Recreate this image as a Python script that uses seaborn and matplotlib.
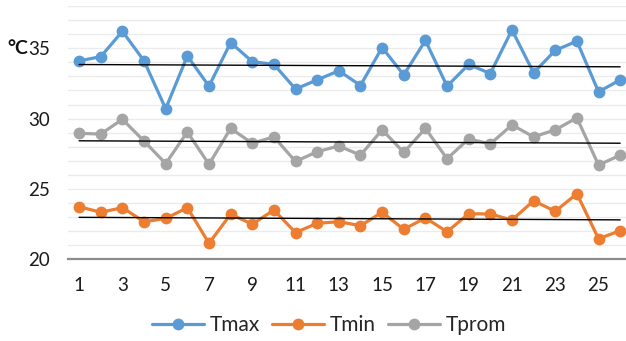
import numpy as np
import pandas as pd
import matplotlib
matplotlib.use("Agg")
import matplotlib.pyplot as plt
from matplotlib.lines import Line2D
import seaborn as sns

days = list(range(1, 27))
tmax = [34.1, 34.4, 36.2, 34.1, 30.7, 34.45, 32.3, 35.4, 34.05, 33.85, 32.1, 32.75, 33.4,
        32.35, 35.05, 33.1, 35.55, 32.3, 33.85, 33.2, 36.3, 33.25, 34.85, 35.5, 31.9, 32.75]
tmin = [23.74, 23.34, 23.67, 22.67, 22.9, 23.67, 21.14, 23.2, 22.5, 23.5, 21.9, 22.56, 22.67,
        22.39, 23.34, 22.13, 22.94, 21.96, 23.24, 23.22, 22.79, 24.16, 23.41, 24.66, 21.46, 22.03]
tprom = [28.95, 28.9, 29.95, 28.4, 26.8, 29.05, 26.75, 29.3, 28.25, 28.7, 26.95, 27.65, 28.05,
         27.4, 29.2, 27.6, 29.3, 27.15, 28.55, 28.2, 29.55, 28.7, 29.2, 30.05, 26.7, 27.4]
series_names = ["Tmax", "Tmin", "Tprom"]
x_ticks = list(range(1, 26, 2))
y_ticks = [20, 25, 30, 35]

colors = {"Tmax": "#5B9BD5", "Tmin": "#ED7D31", "Tprom": "#A5A5A5"}

df = pd.DataFrame({
    "Día": days * 3,
    "Temp": tmax + tmin + tprom,
    "Serie": ["Tmax"] * 26 + ["Tmin"] * 26 + ["Tprom"] * 26,
})

sns.set_style("white")
plt.rcParams["font.family"] = ["Lato", "DejaVu Sans"]

fig = plt.figure(figsize=(6.26, 3.41), dpi=100)
ax = fig.add_axes([68.3 / 626, 81.7 / 341, (631 - 68.3) / 626, (335 - 81.7) / 341])

# light horizontal grid at every degree
for v in range(21, 39):
    ax.axhline(v, color="#EBEBEB", lw=1.0, zorder=0)

sns.lineplot(data=df, x="Día", y="Temp", hue="Serie", palette=colors,
             marker="o", markersize=8.5, markeredgewidth=0, linewidth=2.3,
             legend=False, ax=ax, zorder=3)

# linear trend lines
for name, vals in zip(series_names, [tmax, tmin, tprom]):
    slope, icpt = np.polyfit(days, vals, 1)
    xs = np.array([days[0], days[-1]])
    ax.plot(xs, slope * xs + icpt, color="black", lw=1.0, zorder=4)

ax.set_xlim(0.5, 26.5)
ax.set_ylim(20, 38)
ax.set_xticks(x_ticks)
ax.set_yticks(y_ticks)
ax.set_xlabel("")
ax.set_ylabel("")
for s in ["top", "right", "left"]:
    ax.spines[s].set_visible(False)
ax.spines["bottom"].set_color("#8C8C8C")
ax.spines["bottom"].set_linewidth(1.6)
ax.tick_params(axis="x", length=0, pad=13, labelsize=13.5, colors="#1a1a1a")
ax.tick_params(axis="y", length=0, pad=13, labelsize=13.5, colors="#1a1a1a")

fig.text(7 / 626, 1 - 49 / 341, "°C", fontsize=14, fontweight="bold",
         va="center", ha="left", color="#111111")

handles = [Line2D([0], [0], color=colors[n], lw=2.3, marker="o", markersize=8.5,
                  markeredgewidth=0) for n in series_names]
fig.legend(handles, series_names, loc="center", bbox_to_anchor=(329 / 626, 16 / 341),
           ncol=3, frameon=False, fontsize=15, handlelength=2.5, handletextpad=0.25,
           columnspacing=0.6)

fig.savefig("out.png", dpi=100)
